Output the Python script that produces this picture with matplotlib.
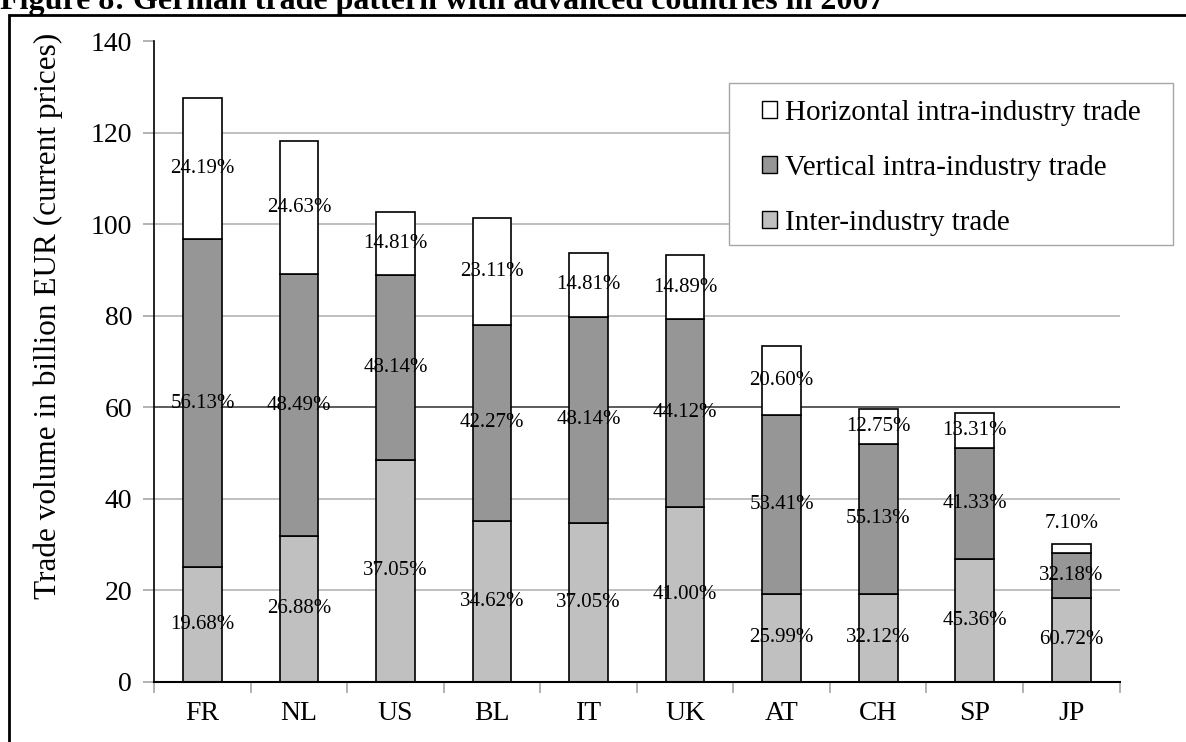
import matplotlib

matplotlib.use("Agg")

import matplotlib.pyplot as plt
from matplotlib.patches import Patch, Rectangle

plt.rcParams["font.family"] = ["Liberation Serif", "DejaVu Serif"]

countries = ["FR", "NL", "US", "BL", "IT", "UK", "AT", "CH", "SP", "JP"]

# trade volume per component, billion EUR
inter_industry = [25.1, 31.8, 48.5, 35.1, 34.7, 38.2, 19.1, 19.1, 26.7, 18.3]
vertical_iit = [71.6, 57.3, 40.4, 42.9, 45.1, 41.1, 39.2, 32.9, 24.3, 9.7]
horizontal_iit = [30.8, 29.1, 13.8, 23.4, 13.9, 13.9, 15.1, 7.6, 7.8, 2.1]

# share labels printed inside the segments
inter_labels = ["19.68%", "26.88%", "37.05%", "34.62%", "37.05%",
                "41.00%", "25.99%", "32.12%", "45.36%", "60.72%"]
vertical_labels = ["56.13%", "48.49%", "48.14%", "42.27%", "48.14%",
                   "44.12%", "53.41%", "55.13%", "41.33%", "32.18%"]
horizontal_labels = ["24.19%", "24.63%", "14.81%", "23.11%", "14.81%",
                     "14.89%", "20.60%", "12.75%", "13.31%", "7.10%"]

series = [
    ("Inter-industry trade", inter_industry, inter_labels, "#c0c0c0"),
    ("Vertical intra-industry trade", vertical_iit, vertical_labels, "#969696"),
    ("Horizontal intra-industry trade", horizontal_iit, horizontal_labels, "#ffffff"),
]

W, H = 1186, 742
fig = plt.figure(figsize=(W / 100, H / 100), dpi=100)
ax = fig.add_axes([154.3 / W, 1 - 681.5 / H, 965.2 / W, 640.2 / H])

x = list(range(len(countries)))
bottoms = [0.0] * len(countries)
for name, values, labels, color in series:
    ax.bar(x, values, width=0.4, bottom=bottoms, color=color,
           edgecolor="black", linewidth=1.2, zorder=3)
    for i, (v, b, lab) in enumerate(zip(values, bottoms, labels)):
        if v < 4:
            y = b + v + 4.5
        else:
            y = b + v / 2
        ax.text(i, y, lab, ha="center", va="center", fontsize=15, zorder=4)
    bottoms = [b + v for b, v in zip(bottoms, values)]

ax.set_xlim(-0.5, len(countries) - 0.5)
ax.set_ylim(0, 140)
ax.set_yticks(range(0, 141, 20))
ax.tick_params(axis="y", labelsize=20, length=8, width=1.2, color="#a6a6a6", pad=8)

# category labels centred, tick marks between categories
ax.set_xticks(x)
ax.set_xticklabels(countries)
ax.set_xticks([i - 0.5 for i in range(len(countries) + 1)], minor=True)
ax.tick_params(axis="x", which="major", length=0, labelsize=20, pad=14)
ax.tick_params(axis="x", which="minor", length=8, width=1.2, color="#a6a6a6")

for val in range(20, 140, 20):
    ax.axhline(val, color="#404040" if val == 60 else "#b4b4b4",
               linewidth=1.2, zorder=1)

for side in ("top", "right"):
    ax.spines[side].set_visible(False)
ax.spines["left"].set_linewidth(1.2)
ax.spines["bottom"].set_linewidth(1.5)
ax.spines["bottom"].set_zorder(5)

# legend box drawn separately so its size can be set
legend_box = Rectangle((729 / W, 1 - 245 / H), (1173 - 729) / W, (245 - 83) / H,
                       transform=fig.transFigure, facecolor="white",
                       edgecolor="#a6a6a6", linewidth=1.0, zorder=5, clip_on=False)
ax.add_patch(legend_box)

handles = [Patch(facecolor=c, edgecolor="black", linewidth=1.0, label=n)
           for n, _, _, c in reversed(series)]
leg = ax.legend(handles=handles, loc="upper left",
                bbox_to_anchor=(762 / W, 1 - 100 / H), bbox_transform=fig.transFigure,
                borderaxespad=0, borderpad=0, fontsize=21, frameon=False,
                handlelength=0.52, handleheight=0.52, handletextpad=0.28,
                labelspacing=1.0)
leg.set_zorder(6)

fig.text(48 / W, 1 - 316 / H, "Trade volume in billion EUR (current prices)",
         rotation=90, ha="center", va="center", fontsize=22.5)

fig.text(0.0, 1 - 9 / H, "Figure 8: German trade pattern with advanced countries in 2007",
         ha="left", va="baseline", fontsize=23, fontweight="bold")

fig.patches.append(Rectangle((8.5 / W, -0.05), 1.2, 1.05 - 15 / H,
                             transform=fig.transFigure, fill=False,
                             edgecolor="black", linewidth=2))

fig.savefig("out.png", dpi=100)
